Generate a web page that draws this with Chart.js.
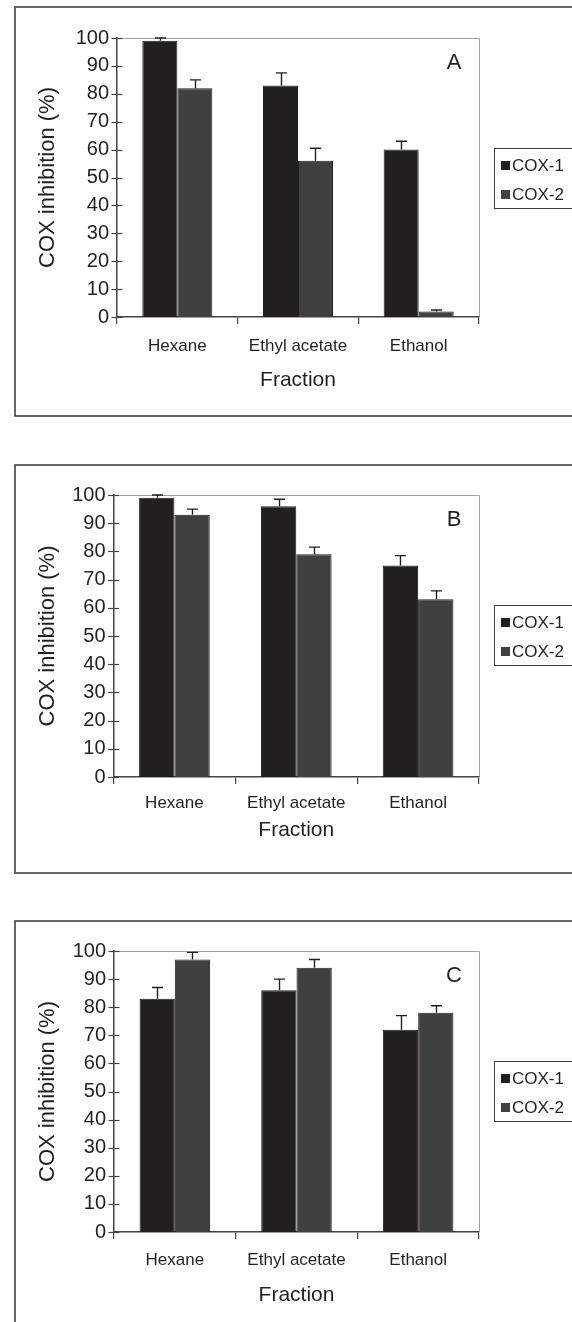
<!DOCTYPE html>
<html><head><meta charset="utf-8">
<script src="https://cdn.jsdelivr.net/npm/chart.js@4.4.0/dist/chart.umd.min.js"></script>
<style>
html,body{margin:0;padding:0;background:#fff;width:572px;height:1322px;overflow:hidden;position:relative}
canvas{position:absolute;left:0}
</style></head><body>
<canvas id="cA" width="620" height="440" style="top:0px"></canvas>
<canvas id="cB" width="620" height="460" style="top:440px"></canvas>
<canvas id="cC" width="620" height="422" style="top:900px"></canvas>
<script>
// ---- data ----
const categories = ['Hexane', 'Ethyl acetate', 'Ethanol'];
const seriesNames = ['COX-1', 'COX-2'];
const panelLetters = ['A', 'B', 'C'];
const yTickLabels = [0, 10, 20, 30, 40, 50, 60, 70, 80, 90, 100];
const yAxisTitle = 'COX inhibition (%)';
const xAxisTitle = 'Fraction';

const cox1A = [99, 83, 60];
const cox1ErrA = [1, 4.5, 3];
const cox2A = [82, 56, 2];
const cox2ErrA = [3, 4.5, 0.5];

const cox1B = [99, 96, 75];
const cox1ErrB = [1, 2.5, 3.5];
const cox2B = [93, 79, 63];
const cox2ErrB = [2, 2.5, 3];

const cox1C = [83, 86, 72];
const cox1ErrC = [4, 4, 5];
const cox2C = [97, 94, 78];
const cox2ErrC = [2.5, 3, 2.5];

// ---- styling ----
const F = '"Liberation Sans", Arial, Helvetica, sans-serif';
const ink = '#231f20';
const c1 = '#231f20';
const c2 = '#404040';
const axisCol = '#444444';

const decor = {
  id: 'decor',
  beforeDraw(chart) {
    const p = chart.options.plugins.decor;
    const ctx = chart.ctx;
    const a = chart.chartArea;
    ctx.save();
    ctx.fillStyle = '#fff';
    ctx.fillRect(0, 0, chart.width, chart.height);
    // outer frame
    ctx.strokeStyle = '#404040';
    ctx.lineWidth = 1.6;
    ctx.strokeRect(15, p.frameTop, 1000, p.frameBottom - p.frameTop);
    // plot area frame (top and right, light gray)
    ctx.strokeStyle = '#a0a0a0';
    ctx.lineWidth = 1;
    ctx.beginPath();
    ctx.moveTo(a.left, Math.round(a.top) + 0.5);
    ctx.lineTo(Math.round(a.right) + 0.5, Math.round(a.top) + 0.5);
    ctx.lineTo(Math.round(a.right) + 0.5, a.bottom);
    ctx.stroke();
    ctx.restore();
  },
  afterDatasetsDraw(chart) {
    const ctx = chart.ctx;
    const ys = chart.scales.y;
    ctx.save();
    ctx.strokeStyle = ink;
    ctx.lineWidth = 1.4;
    chart.data.datasets.forEach((ds, i) => {
      const meta = chart.getDatasetMeta(i);
      meta.data.forEach((bar, j) => {
        const v = ds.data[j], e = ds.errors[j];
        const top = ys.getPixelForValue(v);
        const et = ys.getPixelForValue(v + e);
        const x = Math.round(bar.x) + 0.5;
        ctx.beginPath();
        ctx.moveTo(x, top);
        ctx.lineTo(x, et);
        ctx.moveTo(x - 5.5, et);
        ctx.lineTo(x + 5.5, et);
        ctx.stroke();
      });
    });
    ctx.restore();
  },
  afterDraw(chart) {
    const p = chart.options.plugins.decor;
    const ctx = chart.ctx;
    const ys = chart.scales.y;
    const a = chart.chartArea;
    ctx.save();
    // y tick marks crossing the axis
    ctx.strokeStyle = axisCol;
    ctx.lineWidth = 1.2;
    ys.ticks.forEach(t => {
      const py = Math.round(ys.getPixelForValue(t.value)) + 0.5;
      const len = (t.value % 10 === 0) ? 5.5 : 4;
      ctx.beginPath();
      ctx.moveTo(a.left - len, py);
      ctx.lineTo(a.left + len, py);
      ctx.stroke();
    });
    // panel letter
    ctx.fillStyle = ink;
    ctx.font = '22px ' + F;
    ctx.textAlign = 'center';
    ctx.textBaseline = 'middle';
    ctx.fillText(p.letter, 454, a.top + 25);
    // legend
    const lt = Math.round(a.top + 110) + 0.5;
    ctx.strokeStyle = '#404040';
    ctx.lineWidth = 1;
    ctx.strokeRect(494.5, lt, 200, 60);
    ctx.font = '17px ' + F;
    ctx.textAlign = 'left';
    chart.data.datasets.forEach((ds, i) => {
      const cy = lt + 17 + i * 29;
      ctx.fillStyle = ds.backgroundColor;
      ctx.fillRect(501, cy - 4.5, 9, 9);
      ctx.fillStyle = ink;
      ctx.fillText(ds.label, 512, cy + 0.5);
    });
    ctx.restore();
  }
};

function makeChart(id, geo, d1, e1, d2, e2, letter) {
  const cv = document.getElementById(id);
  const W = cv.width, H = cv.height;
  const xH = 90;
  return new Chart(cv, {
    type: 'bar',
    data: {
      labels: categories,
      datasets: [
        { label: seriesNames[0], data: d1, errors: e1, backgroundColor: c1, borderColor: ink, borderWidth: 1,
          categoryPercentage: 0.58, barPercentage: 1.0 },
        { label: seriesNames[1], data: d2, errors: e2, backgroundColor: c2, borderColor: ink, borderWidth: 1,
          categoryPercentage: 0.58, barPercentage: 1.0 }
      ]
    },
    options: {
      responsive: false,
      animation: false,
      devicePixelRatio: 1,
      layout: { padding: { left: 0, top: geo.plotTop, right: W - 479, bottom: H - geo.plotBottom - xH } },
      plugins: {
        legend: { display: false },
        tooltip: { enabled: false },
        decor: { frameTop: geo.frameTop, frameBottom: geo.frameBottom, letter: letter }
      },
      scales: {
        x: {
          grid: { display: true, drawOnChartArea: false, drawTicks: true, tickLength: 7, color: axisCol, lineWidth: 1.2, offset: true },
          border: { display: true, color: axisCol, width: 1.5 },
          ticks: { color: ink, font: { family: F, size: 17 }, padding: geo.xPad, maxRotation: 0, minRotation: 0, autoSkip: false },
          title: { display: true, text: xAxisTitle, color: ink, font: { family: F, size: 21 }, padding: { top: 0, bottom: geo.xTitlePad } },
          afterFit(s) { s.height = xH; }
        },
        y: {
          min: 0, max: 100,
          grid: { display: false, drawTicks: false },
          border: { display: true, color: axisCol, width: 1.5 },
          ticks: {
            stepSize: 5, color: ink, font: { family: F, size: 20 }, padding: 8,
            callback: (v) => yTickLabels.includes(v) ? String(v) : ''
          },
          title: { display: true, text: yAxisTitle, color: ink, font: { family: F, size: 22 }, padding: { top: 35, bottom: 0 } },
          afterFit(s) { s.width = geo.axisX; }
        }
      }
    },
    plugins: [decor]
  });
}

makeChart('cA', { frameTop: 7, frameBottom: 416, plotTop: 38, plotBottom: 317, axisX: 117, xPad: 12, xTitlePad: 14 },
  cox1A, cox1ErrA, cox2A, cox2ErrA, panelLetters[0]);
makeChart('cB', { frameTop: 25, frameBottom: 433, plotTop: 55, plotBottom: 337, axisX: 113.5, xPad: 9, xTitlePad: 24 },
  cox1B, cox1ErrB, cox2B, cox2ErrB, panelLetters[1]);
makeChart('cC', { frameTop: 21, frameBottom: 600, plotTop: 51, plotBottom: 332, axisX: 114, xPad: 11, xTitlePad: 14.5 },
  cox1C, cox1ErrC, cox2C, cox2ErrC, panelLetters[2]);
</script>
</body></html>
